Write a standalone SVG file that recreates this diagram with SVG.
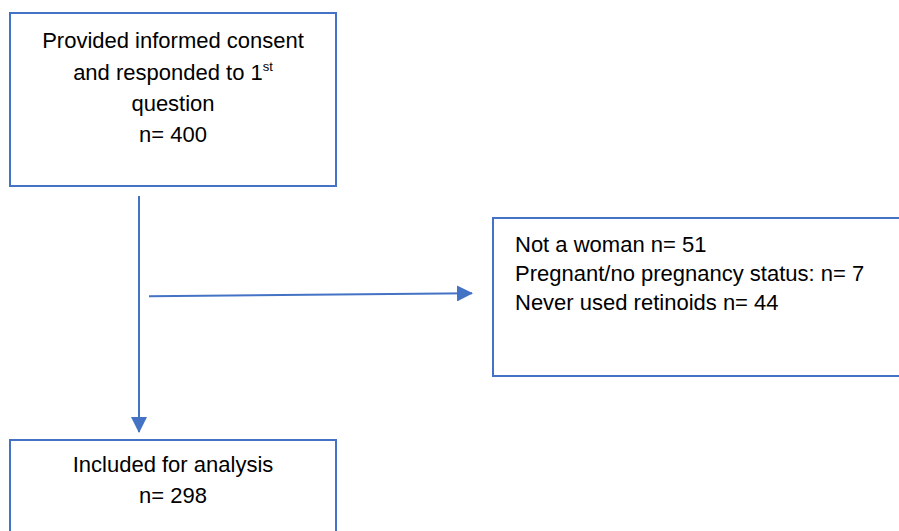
<svg xmlns="http://www.w3.org/2000/svg" width="899" height="531" viewBox="0 0 899 531">
<style>
.box{fill:#ffffff;stroke:#4472C4;stroke-width:2}
.t{font-family:"Liberation Sans",Arial,sans-serif;font-size:22px;fill:#000000}
.c{text-anchor:middle}
.ln{stroke:#4472C4;stroke-width:2;fill:none}
</style>
<defs>
<marker id="ah" markerWidth="8" markerHeight="8" refX="7.5" refY="4" orient="auto" markerUnits="strokeWidth">
<path d="M0,0 L8,4 L0,8 z" fill="#4472C4"/>
</marker>
</defs>
<rect width="899" height="531" fill="#ffffff"/>
<g id="connectors">
<line class="ln" x1="139" y1="196" x2="139" y2="432" marker-end="url(#ah)"/>
<line class="ln" x1="149" y1="296.3" x2="472" y2="293.3" marker-end="url(#ah)"/>
</g>
<g id="node-consent">
<rect class="box" x="10" y="13" width="326" height="173"/>
<text class="t c" x="173" y="48">Provided informed consent</text>
<text class="t c" x="173" y="80">and responded to 1<tspan font-size="13" dy="-9">st</tspan></text>
<text class="t c" x="173" y="111">question</text>
<text class="t c" x="173" y="142">n= 400</text>
</g>
<g id="node-excluded">
<rect class="box" x="493" y="218" width="420" height="158"/>
<text class="t" x="515" y="252">Not a woman n= 51</text>
<text class="t" x="515" y="281">Pregnant/no pregnancy status: n= 7</text>
<text class="t" x="515" y="310">Never used retinoids n= 44</text>
</g>
<g id="node-included">
<rect class="box" x="10" y="440" width="326" height="110"/>
<text class="t c" x="173" y="472">Included for analysis</text>
<text class="t c" x="173" y="503">n= 298</text>
</g>
</svg>
